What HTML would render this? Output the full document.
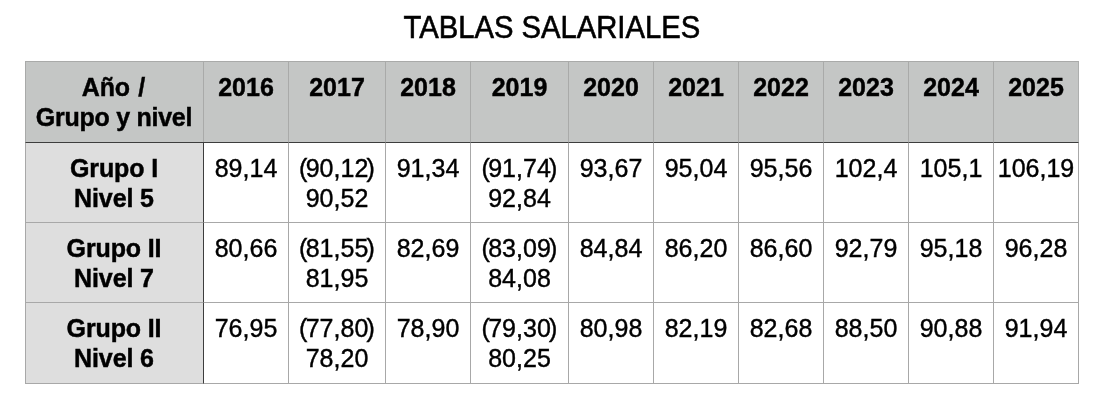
<!DOCTYPE html>
<html lang="es">
<head>
<meta charset="utf-8">
<title>Tablas salariales</title>
<style>
  html, body { margin: 0; padding: 0; background: #ffffff; }
  body {
    width: 1094px; height: 400px; overflow: hidden; position: relative;
    font-family: "Liberation Sans", sans-serif;
    color: #000;
  }
  h1 {
    position: absolute; left: 0; top: 9px; width: 1094px; margin: 0;
    text-align: center; font-weight: normal;
    font-size: 30.5px; line-height: 36px;
    padding-left: 10px; box-sizing: border-box;
  }
  h1 span { -webkit-text-stroke: 0.6px #000; display: inline-block; transform: scaleX(0.958); transform-origin: 50% 50%; white-space: nowrap; }
  .pl { margin-right: -1.7px; }
  .pr { margin-left: -1.7px; }
  .tight { letter-spacing: -0.26px; }
  .ano { letter-spacing: -0.1px; position: relative; left: -1.2px; }
  table {
    position: absolute; left: 25px; top: 61px;
    border-collapse: separate; border-spacing: 0;
    table-layout: fixed; width: 1054px;
    font-size: 25px; line-height: 30px;
  }
  th, td {
    box-sizing: border-box; padding: 10px 0 0 0; margin: 0;
    text-align: center; vertical-align: top; white-space: nowrap;
    border-left: 1px solid #a8a8a8; border-top: 1px solid #a8a8a8;
    font-weight: normal; overflow: hidden;
  }
  thead th { -webkit-text-stroke: 0.45px #000; background: #c4c6c5; font-weight: bold; height: 81px; border-color: #a9aaa9; }
  tbody th { background: #dedede; font-weight: bold; -webkit-text-stroke: 0.45px #000; letter-spacing: -0.12px; }
  tbody td { background: #fff; -webkit-text-stroke: 0.4px #000; }
  tbody tr { height: 80px; }
  tbody tr:first-child th, tbody tr:first-child td { border-top-color: #3d3d3d; }
  tbody th + td { border-left-color: #3d3d3d; }
  tbody tr:last-child th, tbody tr:last-child td { height: 82px; border-bottom: 1px solid #a8a8a8; }
  tr > th:first-child { padding-right: 1px; }
  th:last-child, td:last-child { border-right: 1px solid #a8a8a8; }
  thead th:last-child { border-right-color: #adafae; }
  thead th:first-child { border-left-color: #a9aaa9; }
</style>
</head>
<body>
<h1><span>TABLAS SALARIALES</span></h1>
<table>
  <colgroup>
    <col style="width:178px"><col style="width:85px"><col style="width:97px"><col style="width:85px">
    <col style="width:98px"><col style="width:85px"><col style="width:85px"><col style="width:85px">
    <col style="width:85px"><col style="width:85px"><col style="width:86px">
  </colgroup>
  <thead>
    <tr>
      <th><span class="ano">Año</span> /<br><span class="tight">Grupo y nivel</span></th>
      <th>2016</th><th>2017</th><th>2018</th><th>2019</th><th>2020</th>
      <th>2021</th><th>2022</th><th>2023</th><th>2024</th><th>2025</th>
    </tr>
  </thead>
  <tbody>
    <tr>
      <th>Grupo I<br>Nivel 5</th>
      <td>89,14</td><td><span class="pl">(</span>90,12<span class="pr">)</span><br>90,52</td><td>91,34</td><td><span class="pl">(</span>91,74<span class="pr">)</span><br>92,84</td><td>93,67</td>
      <td>95,04</td><td>95,56</td><td>102,4</td><td>105,1</td><td>106,19</td>
    </tr>
    <tr>
      <th>Grupo II<br>Nivel 7</th>
      <td>80,66</td><td><span class="pl">(</span>81,55<span class="pr">)</span><br>81,95</td><td>82,69</td><td><span class="pl">(</span>83,09<span class="pr">)</span><br>84,08</td><td>84,84</td>
      <td>86,20</td><td>86,60</td><td>92,79</td><td>95,18</td><td>96,28</td>
    </tr>
    <tr>
      <th>Grupo II<br>Nivel 6</th>
      <td>76,95</td><td><span class="pl">(</span>77,80<span class="pr">)</span><br>78,20</td><td>78,90</td><td><span class="pl">(</span>79,30<span class="pr">)</span><br>80,25</td><td>80,98</td>
      <td>82,19</td><td>82,68</td><td>88,50</td><td>90,88</td><td>91,94</td>
    </tr>
  </tbody>
</table>
</body>
</html>
